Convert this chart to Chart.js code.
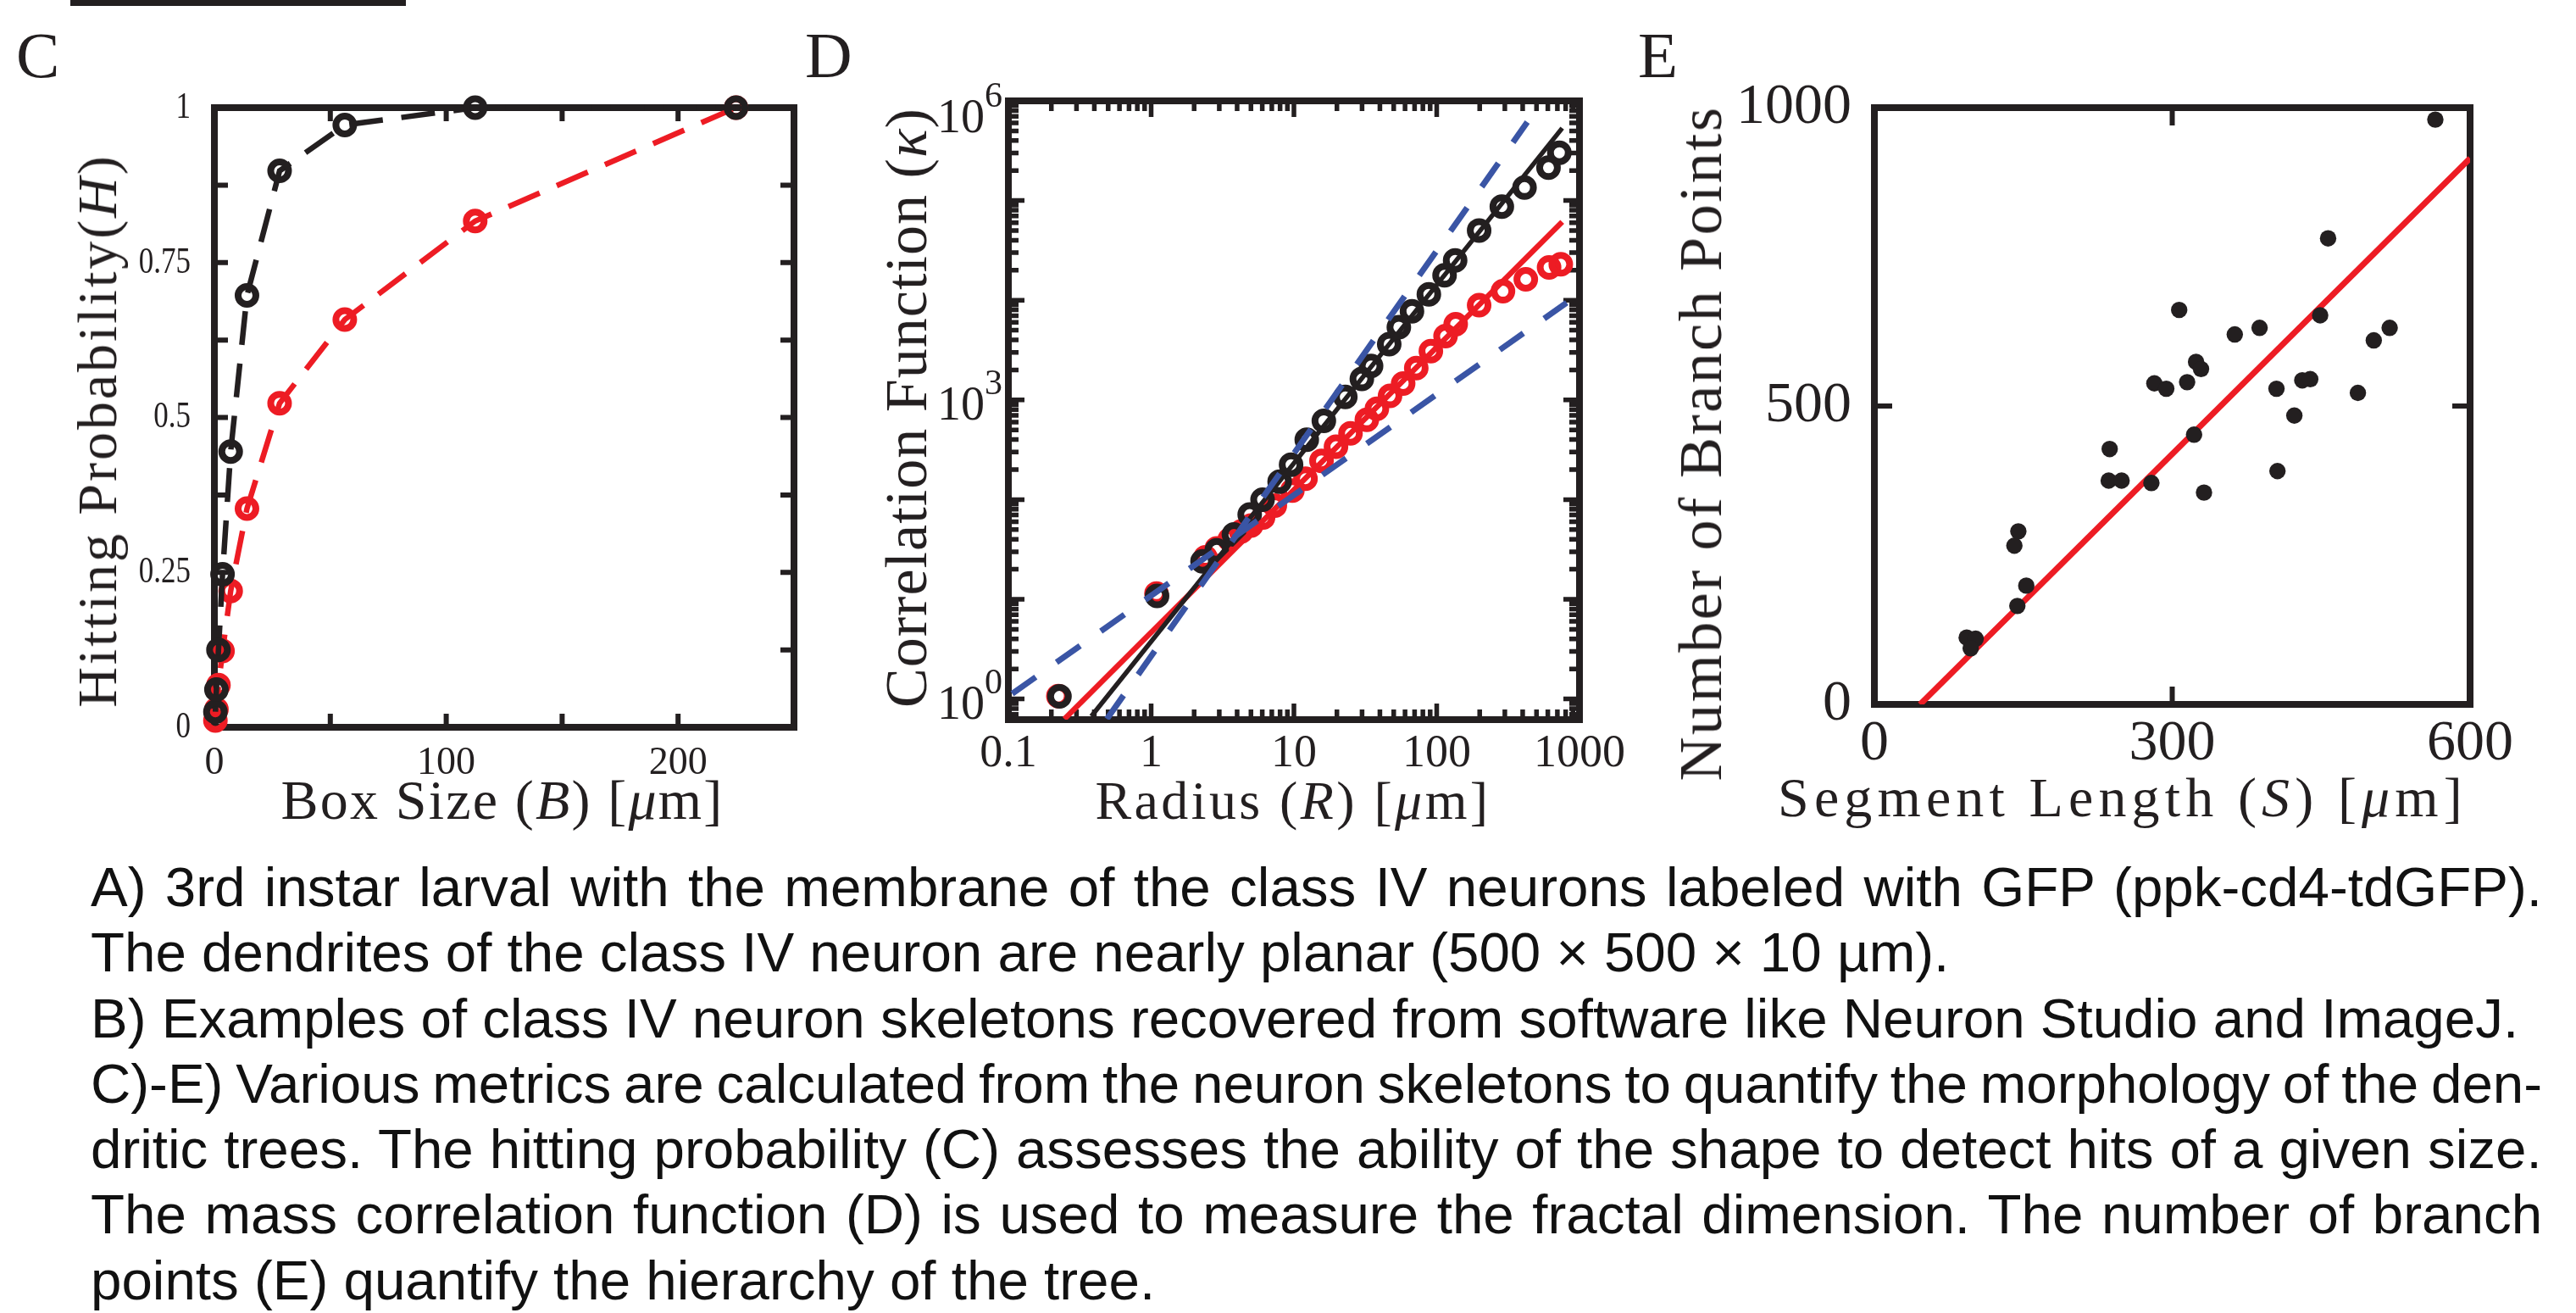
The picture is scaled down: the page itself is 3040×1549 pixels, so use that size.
<!DOCTYPE html>
<html>
<head>
<meta charset="utf-8">
<title>Class IV neuron morphology metrics</title>
<script src="https://cdn.jsdelivr.net/npm/chart.js@4.4.1/dist/chart.umd.min.js"></script>
<style>
  html, body { margin: 0; padding: 0; background: #fff; }
  #page { position: relative; width: 3040px; height: 1549px; overflow: hidden; color: #231f20; }
  canvas { position: absolute; }
  .serif { position: absolute; font-family: 'Liberation Serif', 'DejaVu Serif', serif; line-height: 1; white-space: nowrap; }
  .bar { position: absolute; left: 83px; top: 0; width: 396px; height: 7px; background: #231f20; }
  .letter { font-size: 77px; top: 27px; }
  .xt { transform: translateX(-50%); }
  .yt { transform: translate(-50%, -50%) rotate(-90deg); }
  .caption { position: absolute; left: 107px; top: 1008px; font-family: 'Liberation Sans', Arial, sans-serif;
             font-size: 65.5px; line-height: 77.3px; color: #111; }
  .caption div { white-space: nowrap; }
</style>
</head>
<body>
<div id="page">
  <div class="bar"></div>
  <div class="serif letter" style="left:19px">C</div>
  <div class="serif letter" style="left:950px">D</div>
  <div class="serif letter" style="left:1933px">E</div>

  <canvas id="chartC"></canvas>
  <canvas id="chartD"></canvas>
  <canvas id="chartE"></canvas>

  <!-- axis titles -->
  <div class="serif xt fit" data-w="523" style="left:593px; top:911px; font-size:66px">Box Size (<i>B</i>) [<i>μ</i>m]</div>
  <div class="serif yt fit" data-w="653" style="left:115px; top:508px; font-size:66px">Hitting Probability(<i>H</i>)</div>
  <div class="serif xt fit" data-w="467" style="left:1526px; top:913px; font-size:64px">Radius (<i>R</i>) [<i>μ</i>m]</div>
  <div class="serif yt fit" data-w="708" style="left:1070px; top:481px; font-size:70px">Correlation Function (<i>κ</i>)</div>
  <div class="serif xt fit" data-w="814" style="left:2505px; top:908px; font-size:66px">Segment Length (<i>S</i>) [<i>μ</i>m]</div>
  <div class="serif yt fit" data-w="797" style="left:2007px; top:523px; font-size:72px">Number of Branch Points</div>

  <div class="caption">
    <div class="j"><span>A) 3rd instar larval with the membrane of the class IV neurons labeled with GFP (ppk-cd4-tdGFP).</span></div>
    <div><span>The dendrites of the class IV neuron are nearly planar (500 × 500 × 10 µm).</span></div>
    <div><span>B) Examples of class IV neuron skeletons recovered from software like Neuron Studio and ImageJ.</span></div>
    <div class="j"><span>C)-E) Various metrics are calculated from the neuron skeletons to quantify the morphology of the den-</span></div>
    <div class="j"><span>dritic trees. The hitting probability (C) assesses the ability of the shape to detect hits of a given size.</span></div>
    <div class="j"><span>The mass correlation function (D) is used to measure the fractal dimension. The number of branch</span></div>
    <div><span>points (E) quantify the hierarchy of the tree.</span></div>
  </div>
</div>

<script>
// ---- panel C: hitting probability vs box size ----
var boxSize   = [0.44, 0.88, 1.76, 3.52, 7.03, 14.06, 28.13, 56.25, 112.5, 225];
var hitBlack  = [0.025, 0.061, 0.125, 0.247, 0.445, 0.697, 0.898, 0.972, 1.0, 1.0];
var hitRed    = [0.011, 0.029, 0.068, 0.123, 0.220, 0.353, 0.523, 0.658, 0.817, 1.0];
var boxTicks  = [0, 50, 100, 150, 200, 250];
var boxLabels = [0, 100, 200];
var hitTicks  = [0, 0.125, 0.25, 0.375, 0.5, 0.625, 0.75, 0.875, 1];
var hitLabels = [0, 0.25, 0.5, 0.75, 1];
var hitText   = ['0', '0.25', '0.5', '0.75', '1'];

// ---- panel D: mass correlation function ----
var radiusBlack = [0.228, 1.10, 2.29, 2.88, 3.80, 4.90, 6.03, 7.94, 9.55, 12.3, 16.2, 22.9, 29.9, 34.7,
                   46.5, 54.3, 67.1, 88.1, 113.5, 134.6, 198.2, 285.8, 412.1, 606.7, 722.8];
var corrBlack   = [1.06, 10.8, 24.0, 30.9, 44.7, 70.8, 100, 151, 224, 398, 617, 1072, 1622, 2188,
                   3631, 5370, 7762, 11482, 17783, 25119, 50119, 87096, 134896, 213796, 301995];
var radiusRed   = [0.224, 1.09, 2.40, 2.88, 3.55, 4.27, 5.01, 6.08, 7.35, 9.75, 12.05, 15.6, 19.7, 24.9,
                   32.4, 38.1, 47.1, 58.2, 71.9, 91.0, 115.3, 135.8, 198.2, 291.1, 420.7, 612.4, 739.6];
var corrRed     = [1.07, 11.4, 26.3, 32.4, 39.8, 47.9, 55.0, 66.1, 87.1, 123, 162, 245, 339, 462,
                   631, 813, 1096, 1462, 2089, 3090, 4365, 5754, 8913, 12303, 16218, 21380, 22909];
var fitBlackR = [0.381, 757],  fitBlackK = [0.671, 533000];
var fitRedR   = [0.247, 757],  fitRedK   = [0.63, 61200];
var guideHiR  = [0.49, 431],   guideHiK  = [0.63, 612000];
var guideLoR  = [0.1064, 813], guideLoK  = [1.13, 9440];
var radiusLabels = [0.1, 1, 10, 100, 1000];
var radiusText   = ['0.1', '1', '10', '100', '1000'];
var corrDecades  = [1, 10, 100, 1e3, 1e4, 1e5, 1e6];
var corrExps     = [0, 3, 6];

// ---- panel E: branch points vs segment length ----
var segLength = [93, 102, 97, 141, 145, 153, 144, 237, 236, 249, 279, 282, 294, 307, 315, 324,
                 329, 322, 332, 363, 388, 405, 406, 423, 431, 439, 449, 457, 487, 503, 519, 565];
var branchPts = [112, 110, 94, 266, 290, 199, 165, 428, 375, 375, 371, 538, 529, 661, 540, 574,
                 562, 452, 355, 620, 631, 529, 391, 484, 543, 545, 652, 781, 522, 610, 631, 980];
var fitSegS = [46, 600], fitSegN = [0, 915];
var segLabels = [0, 300, 600];
var branchLabels = [0, 500, 1000];

var INK = '#231f20', RED = '#ed1c24', BLUE = '#3a55a5';
var SERIF = "'Liberation Serif', 'DejaVu Serif', serif";

function pts(xs, ys) {
    return xs.map(function(v, i) { return { x: v, y: ys[i] }; });
}

function minors(lo, hi) {
    var out = [];
    for (var d = lo; d < hi; d *= 10) {
        for (var k = 2; k <= 9; k++) out.push(d * k);
    }
    return out;
}

/** box with inward ticks on all four sides, drawn under the data */
var framePlugin = {
    id: 'frame',
    beforeDatasetsDraw: function(chart, args, o) {
        var ctx = chart.ctx, a = chart.chartArea, x = chart.scales.x, y = chart.scales.y;
        ctx.save();
        ctx.strokeStyle = INK;
        ctx.lineCap = 'butt';
        ctx.lineWidth = o.tickWidth;
        ctx.beginPath();
        [[o.xMajor, o.len], [o.xMinor, o.minorLen]].forEach(function(p) {
            (p[0] || []).forEach(function(v) {
                var px = x.getPixelForValue(v);
                ctx.moveTo(px, a.bottom); ctx.lineTo(px, a.bottom - p[1]);
                ctx.moveTo(px, a.top);    ctx.lineTo(px, a.top + p[1]);
            });
        });
        [[o.yMajor, o.len], [o.yMinor, o.minorLen]].forEach(function(p) {
            (p[0] || []).forEach(function(v) {
                var py = y.getPixelForValue(v);
                ctx.moveTo(a.left, py);  ctx.lineTo(a.left + p[1], py);
                ctx.moveTo(a.right, py); ctx.lineTo(a.right - p[1], py);
            });
        });
        ctx.stroke();
        ctx.lineWidth = o.width;
        ctx.strokeRect(a.left, a.top, a.right - a.left, a.bottom - a.top);
        ctx.restore();
    }
};

/** y labels: either 10^k with a raised exponent, or plain text stretched vertically */
var labelPlugin = {
    id: 'ylab',
    afterDraw: function(chart, args, o) {
        if (!o || !o.values) return;
        var ctx = chart.ctx, a = chart.chartArea, y = chart.scales.y;
        ctx.save();
        ctx.fillStyle = INK;
        o.values.forEach(function(v, i) {
            var py = y.getPixelForValue(v);
            var xEnd = a.left - o.pad;
            if (o.exps) {
                var e = String(o.exps[i]);
                var base = Math.max(py + o.drop, a.top + o.topMin);
                ctx.textAlign = 'left';
                ctx.textBaseline = 'alphabetic';
                ctx.font = o.supSize + 'px ' + SERIF;
                var ws = ctx.measureText(e).width;
                ctx.fillText(e, xEnd - ws, base - o.rise);
                ctx.font = o.size + 'px ' + SERIF;
                ctx.fillText('10', xEnd - ws - ctx.measureText('10').width, base);
            } else {
                ctx.save();
                ctx.translate(xEnd, py);
                ctx.scale(1, o.stretch);
                ctx.textAlign = 'right';
                ctx.textBaseline = 'middle';
                ctx.font = o.size + 'px ' + SERIF;
                ctx.fillText(o.text[i], 0, 0);
                ctx.restore();
            }
        });
        ctx.restore();
    }
};

function place(id, r) {
    var c = document.getElementById(id);
    c.width = r.w; c.height = r.h;
    c.style.left = r.x + 'px'; c.style.top = r.y + 'px';
    return c;
}

function axis(kind, o) {
    return {
        type: o.type || 'linear',
        min: o.min, max: o.max, bounds: 'data',
        grid: { display: false, drawTicks: false },
        border: { display: false },
        afterBuildTicks: function(s) { s.ticks = o.values.map(function(v) { return { value: v }; }); },
        afterFit: function(s) { if (kind === 'x') s.height = o.size; else s.width = o.size; },
        ticks: {
            display: o.show !== false, color: INK, padding: o.pad || 0,
            font: { family: SERIF, size: o.font || 12 },
            maxRotation: 0, autoSkip: false,
            callback: function(v, i) { return o.text[i]; }
        }
    };
}

function baseOptions(rect, box, xAxis, yAxis, frame, ylab) {
    xAxis.size = rect.y + rect.h - box.b;
    yAxis.size = box.l - rect.x;
    return {
        responsive: false, animation: false, events: [],
        layout: { padding: { top: box.t - rect.y, right: rect.x + rect.w - box.r, left: 0, bottom: 0 } },
        plugins: { legend: { display: false }, tooltip: { enabled: false }, frame: frame, ylab: ylab || {} },
        scales: { x: axis('x', xAxis), y: axis('y', yAxis) }
    };
}

function circles(data, color, order) {
    return {
        data: data, showLine: false, order: order, clip: false,
        pointRadius: 10.5, pointBorderWidth: 8, pointBorderColor: color,
        pointBackgroundColor: 'rgba(0,0,0,0)'
    };
}

function segment(data, color, width, dash, order) {
    return {
        data: data, showLine: true, order: order, clip: 0,
        borderColor: color, borderWidth: width, borderDash: dash || [],
        pointRadius: 0
    };
}

// ---- C ----
var rectC = { x: 140, y: 50, w: 880, h: 920 };
var boxC = { l: 253, r: 937, t: 127, b: 858 };
new Chart(place('chartC', rectC), {
    type: 'scatter',
    data: { datasets: [
        Object.assign(circles(pts(boxSize, hitBlack), INK, 0), { showLine: true, borderColor: INK, borderWidth: 6.5, borderDash: [40, 22] }),
        Object.assign(circles(pts(boxSize, hitRed), RED, 1), { showLine: true, borderColor: RED, borderWidth: 6.5, borderDash: [40, 22] })
    ]},
    options: baseOptions(rectC, boxC,
        { min: 0, max: 250, values: boxLabels, text: boxLabels.map(String), pad: 15, font: 46 },
        { min: 0, max: 1, values: hitLabels, text: hitText, show: false },
        { xMajor: boxTicks, yMajor: hitTicks, len: 16, tickWidth: 6, width: 8 },
        { values: hitLabels, text: hitText, size: 35, stretch: 1.28, pad: 28 }),
    plugins: [framePlugin, labelPlugin]
});

// ---- D ----
var rectD = { x: 1100, y: 40, w: 860, h: 930 };
var boxD = { l: 1190, r: 1864, t: 119, b: 849 };
new Chart(place('chartD', rectD), {
    type: 'scatter',
    data: { datasets: [
        segment(pts(guideHiR, guideHiK), BLUE, 7, [34, 30], 0),
        segment(pts(guideLoR, guideLoK), BLUE, 7, [34, 30], 1),
        segment(pts(fitBlackR, fitBlackK), INK, 5.5, null, 2),
        segment(pts(fitRedR, fitRedK), RED, 6.5, null, 3),
        circles(pts(radiusBlack, corrBlack), INK, 4),
        circles(pts(radiusRed, corrRed), RED, 5)
    ]},
    options: baseOptions(rectD, boxD,
        { type: 'logarithmic', min: 0.1, max: 1000, values: radiusLabels, text: radiusText, pad: 8, font: 54 },
        { type: 'logarithmic', min: 0.62, max: 1e6, values: corrDecades, text: [], show: false },
        { xMajor: radiusLabels, xMinor: minors(0.1, 1000), yMajor: corrDecades, yMinor: [0.7, 0.8, 0.9].concat(minors(1, 1e6)),
          len: 19, minorLen: 12, tickWidth: 5.5, width: 8 },
        { values: corrExps.map(function(e) { return Math.pow(10, e); }), exps: corrExps,
          size: 56, supSize: 42, rise: 30, drop: 23, topMin: 37, pad: 7 }),
    plugins: [framePlugin, labelPlugin]
});

// ---- E ----
var rectE = { x: 2030, y: 50, w: 980, h: 920 };
var boxE = { l: 2212, r: 2915, t: 127, b: 831 };
new Chart(place('chartE', rectE), {
    type: 'scatter',
    data: { datasets: [
        { data: pts(segLength, branchPts), showLine: false, order: 0, clip: false,
          pointRadius: 9.7, pointBorderWidth: 0, pointBackgroundColor: INK },
        segment(pts(fitSegS, fitSegN), RED, 7, null, 1)
    ]},
    options: baseOptions(rectE, boxE,
        { min: 0, max: 600, values: segLabels, text: segLabels.map(String), pad: 6, font: 68 },
        { min: 0, max: 1000, values: branchLabels, text: branchLabels.map(String), pad: 27, font: 68 },
        { xMajor: segLabels, yMajor: branchLabels, len: 21, tickWidth: 6, width: 8 }),
    plugins: [framePlugin, labelPlugin]
});

// stretch the axis titles to the widths they have in the figure
document.querySelectorAll('.fit').forEach(function(el) {
    var n = el.textContent.length;
    var gap = (+el.dataset.w - el.offsetWidth) / n;
    el.style.letterSpacing = gap.toFixed(2) + 'px';
});

// justify the full caption lines by hand so the breaks stay where they are
document.querySelectorAll('.caption .j span').forEach(function(sp) {
    var spaces = (sp.textContent.match(/ /g) || []).length;
    var extra = (2893 - sp.offsetWidth) / spaces;
    sp.style.wordSpacing = extra.toFixed(2) + 'px';
});
</script>
</body>
</html>
